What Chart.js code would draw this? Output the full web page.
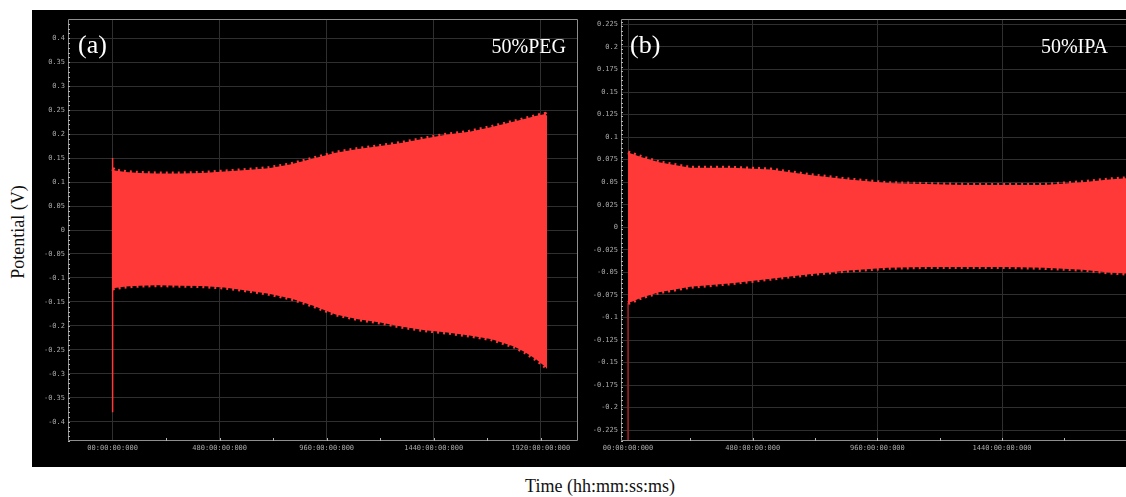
<!DOCTYPE html>
<html>
<head>
<meta charset="utf-8">
<script src="https://cdn.jsdelivr.net/npm/chart.js@4.4.1/dist/chart.umd.min.js"></script>
<style>
  html, body { margin: 0; padding: 0; background: #fff; }
  body { width: 1126px; height: 497px; position: relative; overflow: hidden; font-family: "Liberation Serif", "DejaVu Serif", serif; }
  #panel { position: absolute; left: 32px; top: 10px; width: 1094px; height: 457px; background: #000; }
  .box { position: absolute; top: 0; height: 457px; }
  #boxA { left: 0; width: 554px; }
  #boxB { left: 554px; width: 540px; }
  .tag { position: absolute; color: #fff; line-height: 1; white-space: nowrap; }
  .big { font-size: 26px; }
  .name { font-size: 20px; }
  .axisTitle { position: absolute; color: #111; font-size: 18px; line-height: 1; white-space: nowrap; }
</style>
</head>
<body>
<div id="panel">
  <div class="box" id="boxA"><canvas id="chartA"></canvas></div>
  <div class="box" id="boxB"><canvas id="chartB"></canvas></div>
  <div class="tag big" style="left:46px; top:22px;">(a)</div>
  <div class="tag name" style="right:560px; top:26px;">50%PEG</div>
  <div class="tag big" style="left:598px; top:22px;">(b)</div>
  <div class="tag name" style="right:18px; top:26px;">50%IPA</div>
</div>
<div class="axisTitle" style="left:18px; top:232px; transform: translate(-50%, -50%) rotate(-90deg);">Potential (V)</div>
<div class="axisTitle" style="left:600px; top:486px; transform: translate(-50%, -50%);">Time (hh:mm:ss:ms)</div>

<script>
// 50% PEG: envelope of the potential signal
const timeA = [0, 10, 60, 120, 200, 300, 400, 500, 600, 700, 800, 900, 1000, 1100, 1200, 1300, 1400, 1500, 1600, 1700, 1800, 1850, 1900, 1940, 1948];
const upperA = [0.128, 0.124, 0.121, 0.119, 0.118, 0.118, 0.119, 0.122, 0.125, 0.129, 0.137, 0.149, 0.161, 0.169, 0.175, 0.182, 0.191, 0.199, 0.205, 0.215, 0.226, 0.232, 0.238, 0.242, 0.238];
const lowerA = [-0.122, -0.121, -0.118, -0.116, -0.115, -0.116, -0.117, -0.120, -0.126, -0.133, -0.143, -0.158, -0.176, -0.186, -0.193, -0.202, -0.209, -0.214, -0.220, -0.228, -0.243, -0.255, -0.270, -0.285, -0.290];
const spikeA = [0.15, -0.38];

// 50% IPA
const timeB = [0, 20, 50, 120, 240, 400, 550, 700, 850, 1000, 1150, 1300, 1450, 1600, 1750, 1850, 1950];
const upperB = [0.083, 0.081, 0.078, 0.072, 0.066, 0.066, 0.064, 0.058, 0.053, 0.049, 0.048, 0.047, 0.047, 0.047, 0.050, 0.053, 0.055];
const lowerB = [-0.084, -0.082, -0.078, -0.072, -0.066, -0.062, -0.057, -0.052, -0.048, -0.045, -0.044, -0.044, -0.044, -0.045, -0.047, -0.050, -0.052];
const spikeB = [-0.084, -0.24];

// axis ticks
const xTicksA = [0, 480, 960, 1440, 1920];
const xLabelsA = ['00:00:00:000', '480:00:00:000', '960:00:00:000', '1440:00:00:000', '1920:00:00:000'];
const xTicksB = [0, 480, 960, 1440];
const xLabelsB = ['00:00:00:000', '480:00:00:000', '960:00:00:000', '1440:00:00:000'];
const yTicksA = [-0.4, -0.35, -0.3, -0.25, -0.2, -0.15, -0.1, -0.05, 0, 0.05, 0.1, 0.15, 0.2, 0.25, 0.3, 0.35, 0.4];
const yTicksB = [-0.225, -0.2, -0.175, -0.15, -0.125, -0.1, -0.075, -0.05, -0.025, 0, 0.025, 0.05, 0.075, 0.1, 0.125, 0.15, 0.175, 0.2, 0.225];

const RED = '#ff3838';
const tickFont = { family: '"DejaVu Sans Mono", "Liberation Mono", monospace', size: 7 };
const tickColor = '#a9a9a9';

// plot frame plus the small tick marks along the axes
const frame = {
  id: 'frame',
  afterDraw(chart, args, opts) {
    const { ctx, chartArea: a, scales: { x, y } } = chart;
    ctx.save();
    ctx.strokeStyle = '#8e8e8e';
    ctx.lineWidth = 1;
    ctx.beginPath();
    if (opts.openRight) {
      ctx.moveTo(chart.width, a.top + 0.5);
      ctx.lineTo(a.left + 0.5, a.top + 0.5);
      ctx.lineTo(a.left + 0.5, a.bottom - 0.5);
      ctx.lineTo(chart.width, a.bottom - 0.5);
    } else {
      ctx.rect(a.left + 0.5, a.top + 0.5, a.right - a.left - 1, a.bottom - a.top - 1);
    }
    ctx.stroke();

    ctx.strokeStyle = '#b5b5b5';
    ctx.beginPath();
    for (let v = y.min; v <= y.max; v += opts.yMinor) {
      const py = Math.round(y.getPixelForValue(v)) + 0.5;
      ctx.moveTo(a.left, py);
      ctx.lineTo(a.left + 2, py);
    }
    for (let v = opts.xMinor; v < x.max; v += opts.xMinor) {
      const px = Math.round(x.getPixelForValue(v)) + 0.5;
      ctx.moveTo(px, a.bottom);
      ctx.lineTo(px, a.bottom - 3);
    }
    ctx.stroke();
    ctx.restore();
  }
};

function fmtV(v) {
  return String(+v.toFixed(3));
}

function makeChart(id, cfg) {
  const series = (ts, ys) => ts.map((t, i) => ({ x: t, y: ys[i] }));
  // dashed, wide edge strokes give the ragged rim of the oscillation band
  const edge = { borderColor: RED, borderWidth: 4, borderDash: [2, 4], pointRadius: 0 };
  return new Chart(document.getElementById(id), {
    type: 'line',
    data: {
      datasets: [
        { ...edge, data: series(cfg.time, cfg.upper), fill: false },
        { ...edge, data: series(cfg.time, cfg.lower), fill: '-1', backgroundColor: RED },
        { data: cfg.spike.map(v => ({ x: 0, y: v })), borderColor: cfg.spikeColor, borderWidth: 1.5, pointRadius: 0, fill: false }
      ]
    },
    options: {
      responsive: true,
      maintainAspectRatio: false,
      animation: false,
      layout: { padding: { left: 0, right: cfg.padRight, top: 9, bottom: 0 } },
      plugins: {
        legend: { display: false },
        tooltip: { enabled: false },
        filler: { drawTime: 'beforeDatasetsDraw' },
        frame: { openRight: cfg.openRight, yMinor: cfg.yMinor, xMinor: 240 }
      },
      scales: {
        x: {
          type: 'linear',
          min: cfg.xMin,
          max: cfg.xMax,
          afterBuildTicks: s => { s.ticks = cfg.xTicks.map(v => ({ value: v })); },
          afterFit: s => { s.height = 26; },
          grid: { color: '#2f2f2f', drawTicks: false },
          border: { display: false },
          ticks: {
            color: tickColor, font: tickFont, padding: 3, maxRotation: 0, autoSkip: false,
            callback: (v, i) => cfg.xLabels[i]
          }
        },
        y: {
          min: cfg.yMin,
          max: cfg.yMax,
          afterBuildTicks: s => { s.ticks = cfg.yTicks.map(v => ({ value: v })); },
          afterFit: s => { s.width = cfg.yWidth; },
          grid: { color: '#2f2f2f', drawTicks: false },
          border: { display: false },
          ticks: { color: tickColor, font: tickFont, padding: 3, autoSkip: false, callback: v => fmtV(v) }
        }
      }
    },
    plugins: [frame]
  });
}

makeChart('chartA', {
  time: timeA, upper: upperA, lower: lowerA, spike: spikeA, spikeColor: RED,
  xTicks: xTicksA, xLabels: xLabelsA, yTicks: yTicksA,
  xMin: -200, xMax: 2087, yMin: -0.44, yMax: 0.44,
  yWidth: 36, padRight: 8, openRight: false, yMinor: 0.01
});

makeChart('chartB', {
  time: timeB, upper: upperB, lower: lowerB, spike: spikeB, spikeColor: '#a51c1c',
  xTicks: xTicksB, xLabels: xLabelsB, yTicks: yTicksB,
  xMin: -27, xMax: 1917, yMin: -0.237, yMax: 0.231,
  yWidth: 35, padRight: 0, openRight: true, yMinor: 0.005
});
</script>
</body>
</html>
